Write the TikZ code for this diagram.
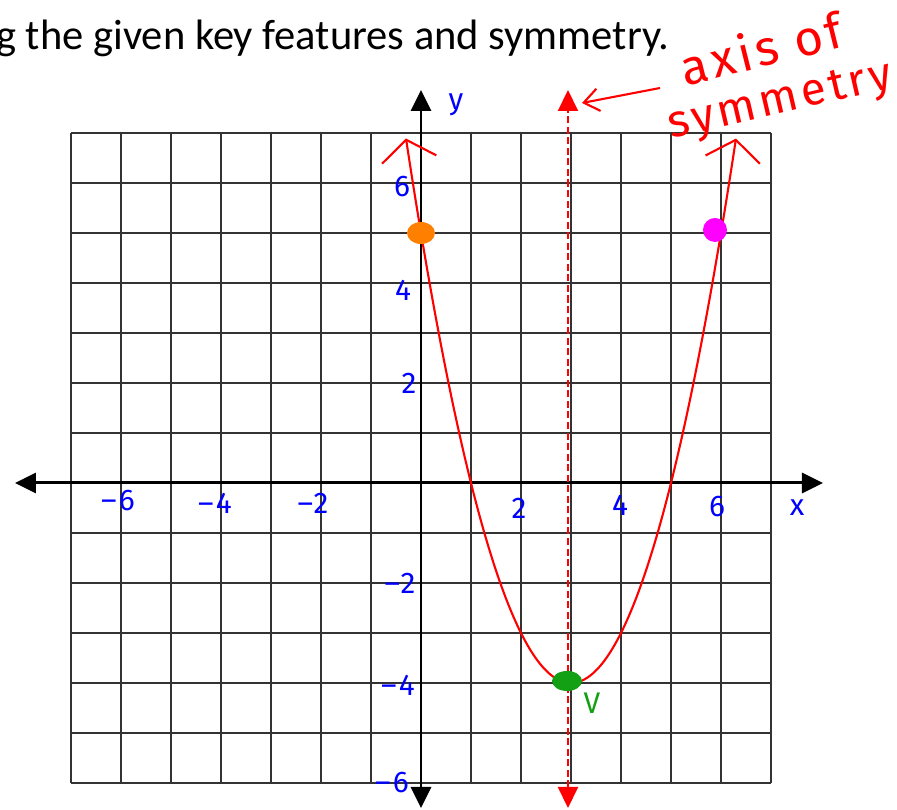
\documentclass[tikz,border=0pt]{standalone}
\usepackage{fontspec}
\setmainfont{Carlito}
\newfontfamily\handfont[LetterSpace=8]{Fira Sans}
\usetikzlibrary{arrows.meta, shapes.geometric}

\definecolor{penred}{RGB}{255,0,0}
\definecolor{penblue}{RGB}{0,0,255}
\definecolor{pengreen}{RGB}{20,160,20}
\definecolor{penorange}{RGB}{255,128,0}
\definecolor{penmagenta}{RGB}{255,0,255}

\begin{document}
\begin{tikzpicture}[
    >={Triangle[length=0.42cm,width=0.4cm]},
    gridline/.style={line width=1.1pt, black!80},
    axisline/.style={line width=1.7pt, <->},
    symline/.style={penred, line width=1.2pt, dash pattern=on 4pt off 2pt, <->},
    curve/.style={penred, line width=1.2pt},
    barbs/.style={{Straight Barb[length=0.4cm,width=1.1cm]}-{Straight Barb[length=0.4cm,width=1.1cm]}},
    handarrow/.style={penred, line width=1.2pt, -{Straight Barb[length=0.3cm,width=0.45cm]}},
    tick/.style={penblue, inner sep=0pt, font=\handfont\fontsize{17}{17}\selectfont},
    note/.style={penred, inner sep=0pt},
    dot/.style={ellipse, inner sep=0pt}
]

\useasboundingbox (-8.42,-6.54) rectangle (9.52,9.66);

\node[anchor=base west, inner sep=0pt, font=\fontsize{24.2}{24.2}\selectfont] (title) at (-8.5,8.66) {g the given key features and symmetry.};

\draw[gridline] (-7,-6) grid (7,7);

\coordinate (xl) at (-8.12,0);
\coordinate (xr) at (8.04,0);
\coordinate (yb) at (0,-6.5);
\coordinate (yt) at (0,7.86);
\coordinate (sb) at (2.94,-6.5);
\coordinate (st) at (2.94,7.86);
\draw[axisline] (xl) -- (xr);
\draw[axisline] (yb) -- (yt);
\draw[symline] (sb) -- (st);

\draw[curve, barbs] plot[domain=-0.3:6.3, samples=80, smooth] ({\x}, {(\x-3)^2-4});

\node[dot, fill=penorange, minimum width=0.56cm, minimum height=0.44cm] (yint) at (0,5) {};
\node[dot, fill=penmagenta, minimum width=0.48cm, minimum height=0.48cm] (mirror) at (5.88,5.06) {};
\node[dot, fill=pengreen, minimum width=0.6cm, minimum height=0.4cm] (vertex) at (2.92,-3.96) {};
\node[pengreen, inner sep=0pt, font=\handfont\fontsize{17}{17}\selectfont] (vlabel) at (3.42,-4.4) {V};

\node[tick] (xm6) at (-6.06,-0.36) {–6};
\node[tick] (xm4) at (-4.12,-0.4) {–4};
\node[tick] (xm2) at (-2.16,-0.4) {–2};
\node[tick] (x2) at (1.96,-0.5) {2};
\node[tick] (x4) at (3.98,-0.44) {4};
\node[tick] (x6) at (5.92,-0.48) {6};
\node[tick] (xlab) at (7.52,-0.5) {x};
\node[tick] (ylab) at (0.7,7.56) {y};
\node[tick] (y6) at (-0.38,5.92) {6};
\node[tick] (y4) at (-0.36,3.86) {4};
\node[tick] (y2) at (-0.24,2) {2};
\node[tick] (ym2) at (-0.42,-2) {–2};
\node[tick] (ym4) at (-0.46,-4.04) {–4};
\node[tick] (ym6) at (-0.58,-6) {–6};

\node[note, rotate=14, font=\handfont\fontsize{28}{28}\selectfont] (axisof) at (6.8,8.7) {axis of};
\node[note, rotate=13, font=\handfont\fontsize{26}{26}\selectfont] (symm) at (7.2,7.6) {symmetry};
\coordinate (ptrtail) at (4.78,7.9);
\coordinate (ptrhead) at (3.22,7.6);
\draw[handarrow] (ptrtail) -- (ptrhead);

\end{tikzpicture}
\end{document}
